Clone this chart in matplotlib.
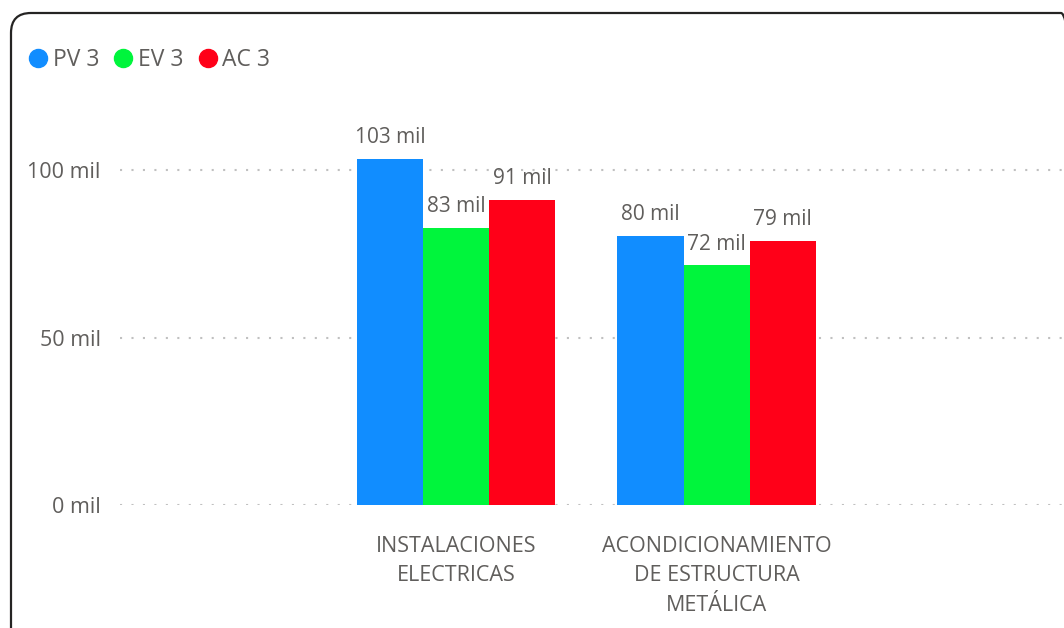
import matplotlib.pyplot as plt
from matplotlib.lines import Line2D
from matplotlib.patches import FancyBboxPatch
from matplotlib.ticker import FuncFormatter

plt.rcParams['font.family'] = ['Open Sans', 'DejaVu Sans']

categories = ['INSTALACIONES\nELECTRICAS', 'ACONDICIONAMIENTO\nDE ESTRUCTURA\nMETÁLICA']
series_names = ['PV 3', 'EV 3', 'AC 3']
pv3 = [103400, 80400]
ev3 = [82700, 71600]
ac3 = [91000, 78800]
colors = ['#118DFF', '#00F53C', '#FF0018']
text_gray = '#605E5C'


def mil(v, pos=None):
    return f'{v / 1000:.0f} mil'


fig = plt.figure(figsize=(10.64, 6.28), dpi=100)
ax = fig.add_axes([0.1128, 0.1951, 0.8872, 0.6138])

width = 0.2535
x = range(len(categories))
for i, (vals, color) in enumerate(zip([pv3, ev3, ac3], colors)):
    pos = [k + (i - 1) * width for k in x]
    bars = ax.bar(pos, vals, width=width, color=color, zorder=2)
    for b, v in zip(bars, vals):
        ax.annotate(mil(v), (b.get_x() + b.get_width() / 2, v),
                    xytext=(0, 11.5), textcoords='offset points',
                    ha='center', va='baseline', fontsize=15, color=text_gray)

ax.set_xlim(-1.29, 2.334)
ax.set_ylim(0, 115000)
ax.set_yticks([0, 50000, 100000])
ax.yaxis.set_major_formatter(FuncFormatter(mil))
ax.set_xticks(list(x))
ax.set_xticklabels(categories, linespacing=1.52)
ax.tick_params(axis='y', length=0, pad=14, labelsize=15.5, labelcolor=text_gray)
ax.tick_params(axis='x', length=0, pad=22, labelsize=15.5, labelcolor=text_gray)
ax.grid(axis='y', color='#C0C0C0', linestyle=(0, (1, 4.5)), linewidth=1.5)
ax.set_axisbelow(True)
for s in ax.spines.values():
    s.set_visible(False)

# legend with round markers in the top-left corner
handles = [Line2D([], [], marker='o', linestyle='none', markersize=13,
                  markerfacecolor=c, markeredgecolor=c) for c in colors]
fig.legend(handles, series_names, loc='upper left', bbox_to_anchor=(0.0268, 0.924),
           ncol=3, frameon=False, fontsize=16.5, labelcolor=text_gray,
           handlelength=0.8, handletextpad=0.25, columnspacing=0.65, borderaxespad=0,
           borderpad=0)

# rounded card border
card = FancyBboxPatch((0.11, -0.2), 10.7, 6.35,
                      boxstyle='round,pad=0,rounding_size=0.2',
                      transform=fig.dpi_scale_trans, fill=False,
                      edgecolor='#252423', linewidth=1.6, clip_on=False)
fig.add_artist(card)

fig.savefig('out.png', dpi=100)
